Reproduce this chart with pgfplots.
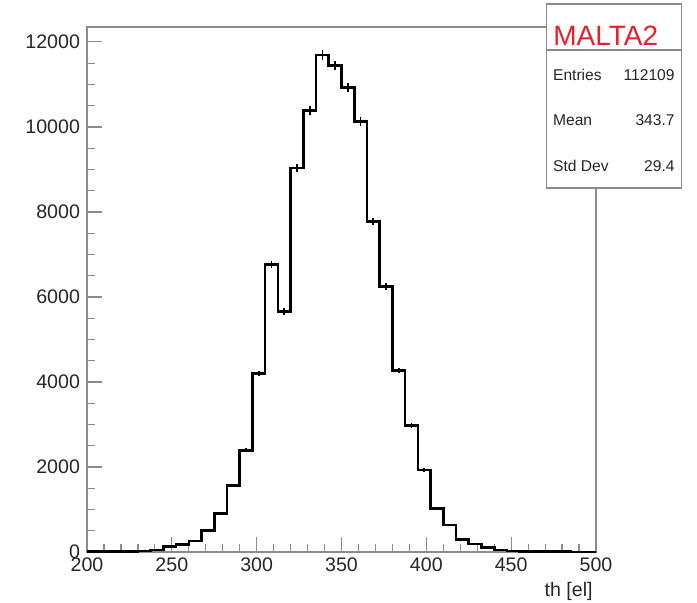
\documentclass[border=0pt]{standalone}
\usepackage{fontspec}
\setmainfont{Liberation Sans}
\usepackage{pgfplots}
\usepackage{pgfplotstable}
\pgfplotsset{compat=1.18}
\definecolor{framegray}{HTML}{8C8C8C}
\definecolor{maltared}{HTML}{E8202A}

% bin left edge, entries (bin width 7.5); last row closes the step at 500
\pgfplotstableread{
x y
200 6
207.5 8
215 12
222.5 18
230 28
237.5 50
245 130
252.5 175
260 255
267.5 500
275 900
282.5 1570
290 2390
297.5 4200
305 6760
312.5 5660
320 9030
327.5 10390
335 11690
342.5 11440
350 10920
357.5 10130
365 7780
372.5 6240
380 4270
387.5 2970
395 1930
402.5 1020
410 640
417.5 290
425 190
432.5 100
440 47
447.5 28
455 18
462.5 12
470 8
477.5 5
485 4
492.5 3
500 3
}\histdata

\begin{document}
\begin{tikzpicture}
\useasboundingbox (0,0) rectangle (348.5pt,301pt);
\begin{axis}[
  at={(43.5pt,25pt)}, anchor=south west,
  scale only axis, width=254.5pt, height=262.5pt,
  xmin=200, xmax=500, ymin=0, ymax=12350,
  xtick={200,250,...,500}, ytick={0,2000,...,12000},
  minor x tick num=4, minor y tick num=3,
  xtick pos=bottom, ytick pos=left, tick align=inside,
  major tick length=7.5pt, minor tick length=3.8pt,
  every tick/.style={framegray, line width=0.6pt},
  axis line style={framegray, line width=0.7pt},
  scaled ticks=false,
  /pgf/number format/1000 sep={},
  /pgf/number format/assume math mode=true,
  tick label style={font=\fontsize{9.8}{11}\selectfont, text=black!85},
  xticklabel style={yshift=0.5pt},
]
\addplot[const plot mark left, black, line width=1.3pt] table[x=x, y=y] {\histdata};
\addplot[draw=none, mark=none, skip coords between index={40}{41},
  error bars/.cd, y dir=both, y explicit, error mark=none,
  error bar style={draw=black, line width=0.9pt}]
  table[x expr=\thisrow{x}+3.75, y=y, y error expr=sqrt(\thisrow{y})] {\histdata};
\end{axis}
% x axis title
\node[anchor=base east, font=\fontsize{9.8}{11}\selectfont, text=black!85, inner sep=0pt]
  at (296.5pt,2.7pt) {th [el]};
% stats box
\draw[framegray, line width=0.7pt, fill=white] (273.35pt,299pt) rectangle (340.85pt,207pt);
\draw[framegray, line width=0.7pt] (273.35pt,276pt) -- (340.85pt,276pt);
\node[anchor=base west, inner sep=0pt, text=maltared, font=\fontsize{14}{16}\selectfont]
  at (276.5pt,278.5pt) {MALTA2};
\begin{scope}[every node/.style={inner sep=0pt, text=black!85, font=\fontsize{7.8}{9}\selectfont}]
\node[anchor=base west] at (276.35pt,261pt) {Entries};
\node[anchor=base east] at (337.5pt,261pt) {112109};
\node[anchor=base west] at (276.35pt,238.5pt) {Mean};
\node[anchor=base east] at (337.5pt,238.5pt) {343.7};
\node[anchor=base west] at (276.35pt,215.15pt) {Std Dev};
\node[anchor=base east] at (337.5pt,215.15pt) {29.4};
\end{scope}
\end{tikzpicture}
\end{document}
